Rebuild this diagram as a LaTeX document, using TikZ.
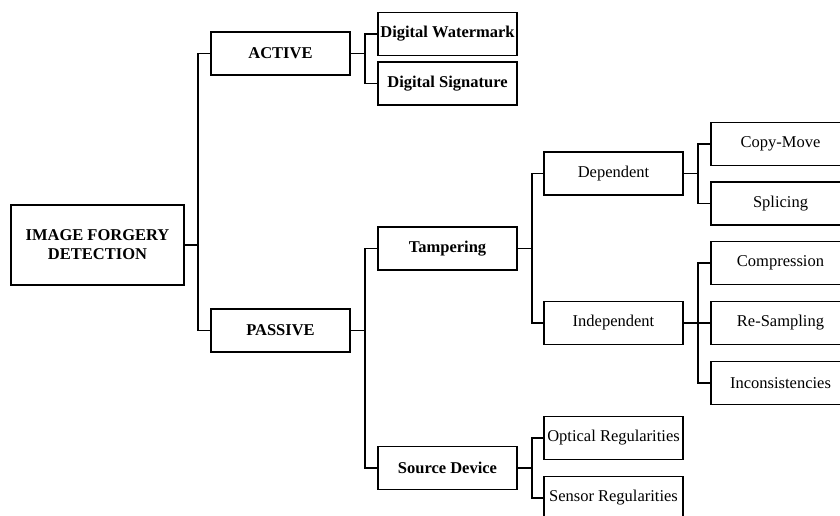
\documentclass[tikz,border=0pt]{standalone}
\usepackage{fontspec}
\setmainfont{Liberation Serif}
\usepackage{tikz}
\usetikzlibrary{calc}

\begin{document}
\begin{tikzpicture}[line cap=rect,line join=miter,x=1pt,y=-1pt,
	box/.style={draw,line width=1.6pt,minimum width=139pt,minimum height=43pt,inner sep=0pt,font=\fontsize{16.5}{19}\selectfont},
	bbox/.style={box,font=\fontsize{16.5}{19}\selectfont\bfseries},
	link/.style={line width=1.6pt}]
	\clip (0,0) rectangle (840,515);
	\node[bbox,minimum width=173pt,minimum height=80pt,align=center] (root) at (97.5,245) {IMAGE FORGERY\\DETECTION};
	\node[bbox] (act) at (280.5,53.5) {ACTIVE};
	\node[bbox] (pas) at (280.5,330.5) {PASSIVE};
	\node[bbox] (wmark) at (447.5,34) {Digital Watermark};
	\node[bbox] (dsig) at (447.5,83.5) {Digital Signature};
	\node[bbox] (tamp) at (447.5,248.5) {Tampering};
	\node[bbox] (srcdev) at (447.5,468) {Source Device};
	\node[box] (dep) at (613.5,173.5) {Dependent};
	\node[box] (indep) at (613.5,323) {Independent};
	\node[box] (copy) at (780.5,144) {Copy-Move};
	\node[box] (splice) at (780.5,203.5) {Splicing};
	\node[box] (comp) at (780.5,263) {Compression};
	\node[box] (resamp) at (780.5,323) {Re-Sampling};
	\node[box] (incons) at (780.5,383) {Inconsistencies};
	\node[box] (optic) at (613.5,438) {Optical Regularities};
	\node[box] (sensor) at (613.5,498) {Sensor Regularities};
	% root
	\draw[link] (root.east) -- +(13,0) |- (act.west);
	\draw[link] (root.east) -- +(13,0) |- (pas.west);
	% active
	\draw[link] (act.east) -- +(14,0) |- (wmark.west);
	\draw[link] (act.east) -- +(14,0) |- (dsig.west);
	% passive
	\draw[link] (pas.east) -- +(14,0) |- (tamp.west);
	\draw[link] (pas.east) -- +(14,0) |- (srcdev.west);
	\draw[link] (tamp.east) -- +(14,0) |- (dep.west);
	\draw[link] (tamp.east) -- +(14,0) |- (indep.west);
	\draw[link] (dep.east) -- +(14,0) |- (copy.west);
	\draw[link] (dep.east) -- +(14,0) |- (splice.west);
	\draw[link] (indep.east) -- +(14,0) |- (comp.west);
	\draw[link] (indep.east) -- +(14,0) |- (resamp.west);
	\draw[link] (indep.east) -- +(14,0) |- (incons.west);
	\draw[link] (srcdev.east) -- +(14,0) |- (optic.west);
	\draw[link] (srcdev.east) -- +(14,0) |- (sensor.west);
\end{tikzpicture}
\end{document}
